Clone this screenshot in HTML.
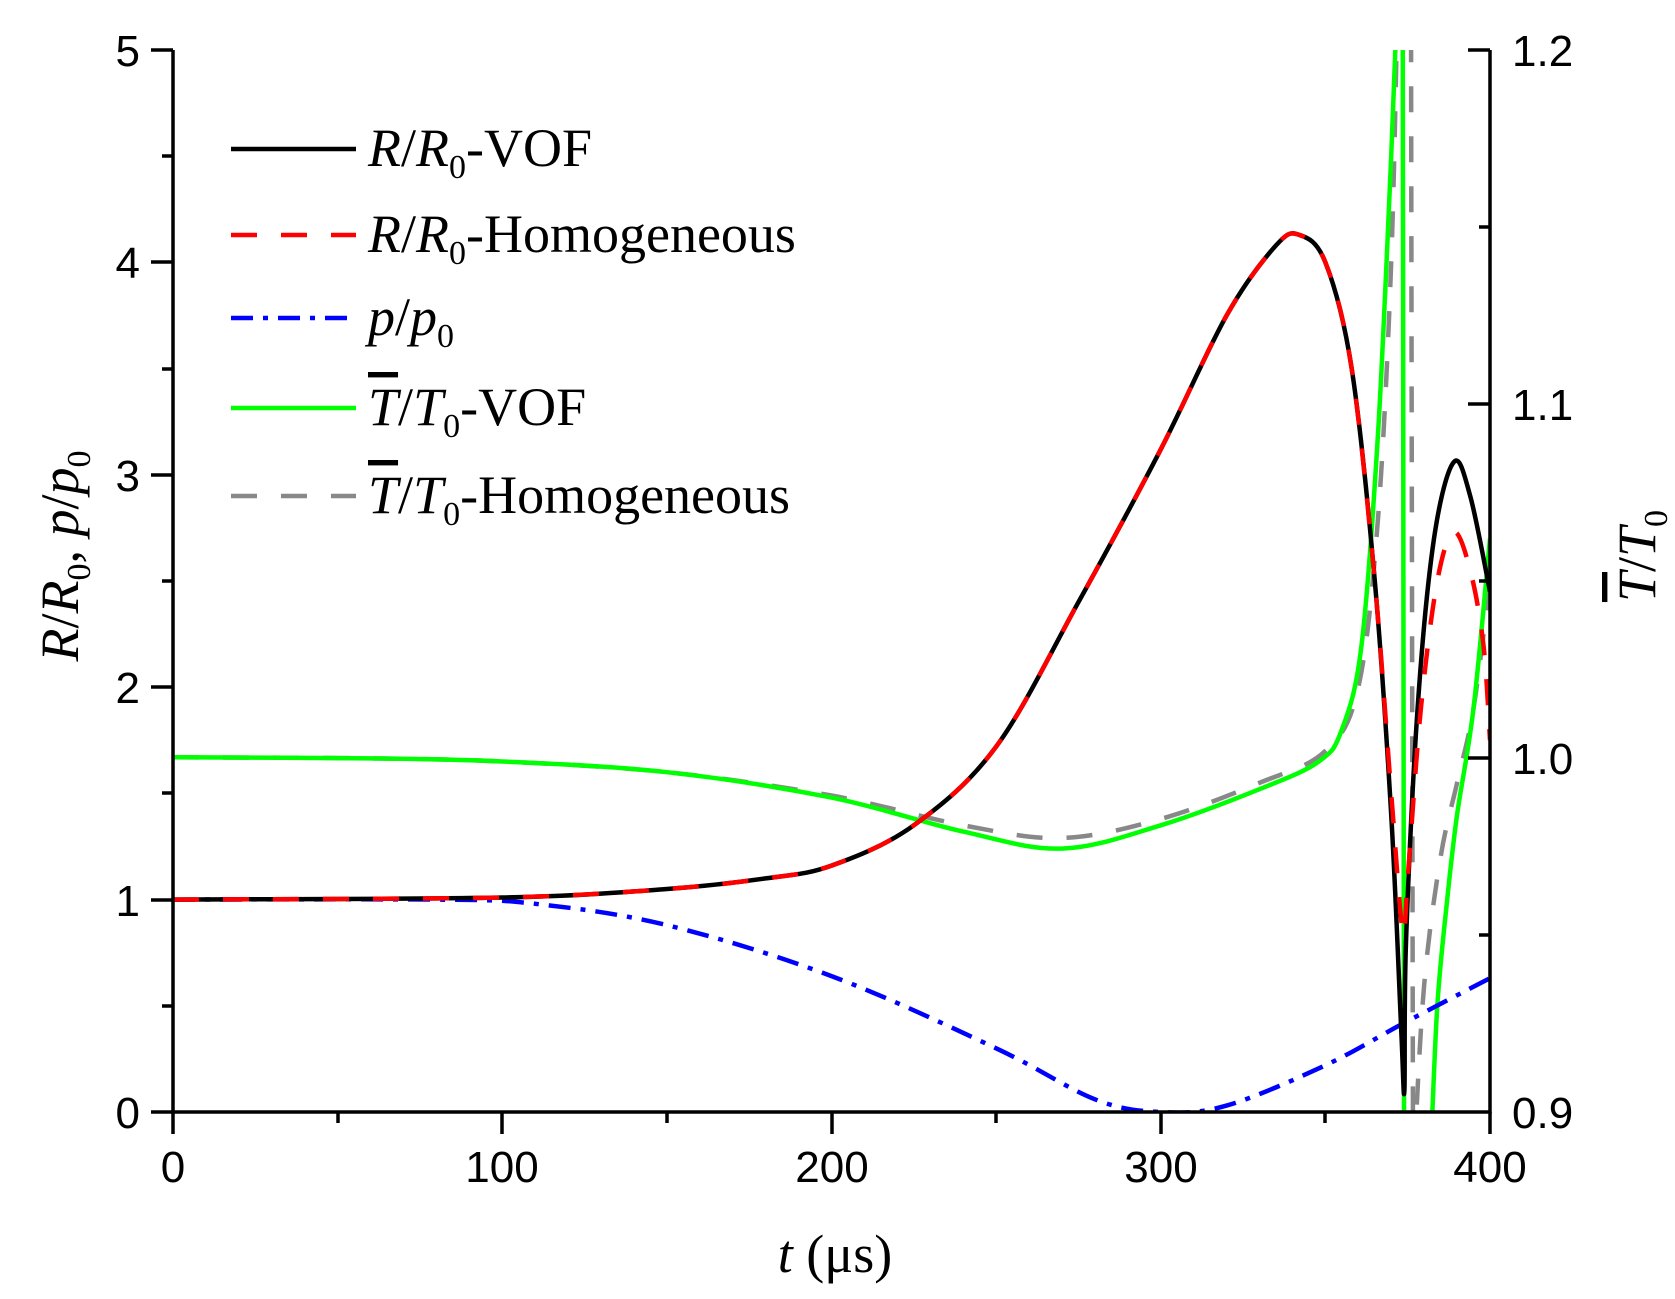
<!DOCTYPE html>
<html><head><meta charset="utf-8"><style>
body{margin:0;background:#fff;}
svg{display:block;}
.tk{font-family:"Liberation Sans",Arial,sans-serif;font-size:44px;fill:#000;}
.lg{font-family:"Liberation Serif","Times New Roman",serif;font-size:54px;fill:#000;}
</style></head><body>
<svg id="s" width="1675" height="1299" viewBox="0 0 1675 1299" xmlns="http://www.w3.org/2000/svg">
<defs><clipPath id="c"><rect x="173" y="50" width="1317" height="1062"/></clipPath></defs>
<g id="curves" clip-path="url(#c)" fill="none" stroke-width="4.5" stroke-linejoin="round"></g>
<g stroke="#000" stroke-width="3.5" fill="none">
<path d="M173,50 V1112 H1490 V50"/>
<path d="M151,50H173M151,262H173M151,475H173M151,687H173M151,900H173M151,1112H173"/>
<path d="M162,156H173M162,369H173M162,581H173M162,793H173M162,1006H173"/>
<path d="M173,1112V1134M502,1112V1134M832,1112V1134M1161,1112V1134M1490,1112V1134"/>
<path d="M338,1112V1123M667,1112V1123M996,1112V1123M1325,1112V1123"/>
<path d="M1468,50H1490M1468,404H1490M1468,758H1490"/>
<path d="M1479,227H1490M1479,581H1490M1479,935H1490"/>
</g>
<g class="tk" text-anchor="end">
<text x="140" y="66">5</text><text x="140" y="278">4</text><text x="140" y="491">3</text>
<text x="140" y="703">2</text><text x="140" y="916">1</text><text x="140" y="1128">0</text>
</g>
<g class="tk" text-anchor="middle">
<text x="173" y="1182">0</text><text x="502" y="1182">100</text><text x="832" y="1182">200</text>
<text x="1161" y="1182">300</text><text x="1490" y="1182">400</text>
</g>
<g class="tk">
<text x="1512" y="66">1.2</text><text x="1512" y="420">1.1</text><text x="1512" y="774">1.0</text><text x="1512" y="1128">0.9</text>
</g>
<text class="lg" x="835" y="1272" text-anchor="middle"><tspan font-style="italic">t</tspan> (μs)</text>
<text class="lg" transform="translate(78,556) rotate(-90)" text-anchor="middle"><tspan font-style="italic">R</tspan>/<tspan font-style="italic">R</tspan><tspan font-size="34" dy="12">0</tspan><tspan dy="-12">, </tspan><tspan font-style="italic">p</tspan>/<tspan font-style="italic">p</tspan><tspan font-size="34" dy="12">0</tspan></text>
<text class="lg" transform="translate(1655,556) rotate(-90)" text-anchor="middle" fill="#222"><tspan font-style="italic" text-decoration="overline">T</tspan>/<tspan font-style="italic">T</tspan><tspan font-size="34" dy="12">0</tspan></text>
<g stroke-width="4.5" fill="none">
<line x1="231" y1="149" x2="356" y2="149" stroke="#000"/>
<line x1="231" y1="235" x2="356" y2="235" stroke="#f00" stroke-dasharray="26,24"/>
<line x1="231" y1="318" x2="356" y2="318" stroke="#00f" stroke-dasharray="22,10,5,10"/>
<line x1="231" y1="408" x2="356" y2="408" stroke="#0f0"/>
<line x1="231" y1="496" x2="356" y2="496" stroke="#888" stroke-dasharray="26,24"/>
</g>
<g class="lg">
<text x="368" y="166"><tspan font-style="italic">R</tspan>/<tspan font-style="italic">R</tspan><tspan font-size="34" dy="12">0</tspan><tspan dy="-12">-VOF</tspan></text>
<text x="368" y="252"><tspan font-style="italic">R</tspan>/<tspan font-style="italic">R</tspan><tspan font-size="34" dy="12">0</tspan><tspan dy="-12">-Homogeneous</tspan></text>
<text x="368" y="335"><tspan font-style="italic">p</tspan>/<tspan font-style="italic">p</tspan><tspan font-size="34" dy="12">0</tspan></text>
<text x="368" y="425"><tspan font-style="italic" text-decoration="overline">T</tspan>/<tspan font-style="italic">T</tspan><tspan font-size="34" dy="12">0</tspan><tspan dy="-12">-VOF</tspan></text>
<text x="368" y="513"><tspan font-style="italic" text-decoration="overline">T</tspan>/<tspan font-style="italic">T</tspan><tspan font-size="34" dy="12">0</tspan><tspan dy="-12">-Homogeneous</tspan></text>
</g>
</svg>
<script>
function X(t){return 173+t*3.2925;}
function Y(v){return 1112-v*212.4;}
function cr(pts){
 var P=pts.map(function(p){return [X(p[0]),Y(p[1])];});
 var d="M"+P[0][0].toFixed(1)+","+P[0][1].toFixed(1);
 for(var i=0;i<P.length-1;i++){
  var p0=P[i-1]||P[i],p1=P[i],p2=P[i+1],p3=P[i+2]||P[i+1];
  var c1=[p1[0]+(p2[0]-p0[0])/6,p1[1]+(p2[1]-p0[1])/6];
  var c2=[p2[0]-(p3[0]-p1[0])/6,p2[1]-(p3[1]-p1[1])/6];
  d+="C"+c1[0].toFixed(1)+","+c1[1].toFixed(1)+" "+c2[0].toFixed(1)+","+c2[1].toFixed(1)+" "+p2[0].toFixed(1)+","+p2[1].toFixed(1);
 }
 return d;
}
var series=[
 {c:"#888",da:"26,24",p:[[0,1.67],[60,1.665],[100,1.65],[150,1.6],[200,1.49],[240,1.35],[270,1.29],[300,1.38],[330,1.55],[350,1.7],[360,2.0],[366,2.8],[370,4.0],[372,5.3]]},
 {c:"#888",da:"26,24",p:[[376,5.3],[376.3,2.5],[376.6,-0.2]]},
 {c:"#888",da:"26,24",p:[[377,-0.2],[380,0.6],[385,1.2],[390,1.55],[395,1.9],[400,2.5]]},
 {c:"#0f0",p:[[0,1.67],[60,1.665],[100,1.65],[150,1.6],[200,1.48],[240,1.32],[270,1.24],[300,1.35],[330,1.52],[348,1.65],[355,1.8],[361,2.2],[366,3.2],[370,4.5],[372,5.3]]},
 {c:"#0f0",p:[[373.5,5.3],[373.7,2.5],[373.9,-0.2]]},
 {c:"#0f0",p:[[382,-0.2],[384,0.5],[387,1.0],[390,1.4],[395,1.9],[400,2.7]]},
 {c:"#00f",da:"22,10,5,10",p:[[0,1],[80,1],[110,0.98],[150,0.88],[200,0.64],[250,0.3],[280,0.06],[300,0],[320,0.03],[350,0.22],[374,0.42],[400,0.63]]},
 {c:"#000",p:[[0,1],[100,1.01],[150,1.05],[180,1.1],[200,1.16],[225,1.35],[250,1.72],[275,2.4],[300,3.12],[320,3.75],[335,4.08],[342,4.13],[350,4.0],[358,3.5],[365,2.5],[370,1.4],[373,0.4],[374,0.1],[374.5,0.8],[378,1.9],[383,2.7],[389,3.06],[394,2.9],[400,2.45]]},
 {c:"#f00",da:"26,24",p:[[0,1],[100,1.01],[150,1.05],[180,1.1],[200,1.16],[225,1.35],[250,1.72],[275,2.4],[300,3.12],[320,3.75],[335,4.08],[342,4.13],[350,4.0],[358,3.5],[365,2.5],[370,1.5],[373.5,0.85],[375,1.1],[379,1.9],[384,2.5],[389,2.73],[394,2.55],[398,2.2],[400,1.75]]}
];
var g=document.getElementById("curves"),ns="http://www.w3.org/2000/svg";
series.forEach(function(s){var e=document.createElementNS(ns,"path");e.setAttribute("d",cr(s.p));e.setAttribute("stroke",s.c);if(s.da)e.setAttribute("stroke-dasharray",s.da);g.appendChild(e);});
</script>
</body></html>
